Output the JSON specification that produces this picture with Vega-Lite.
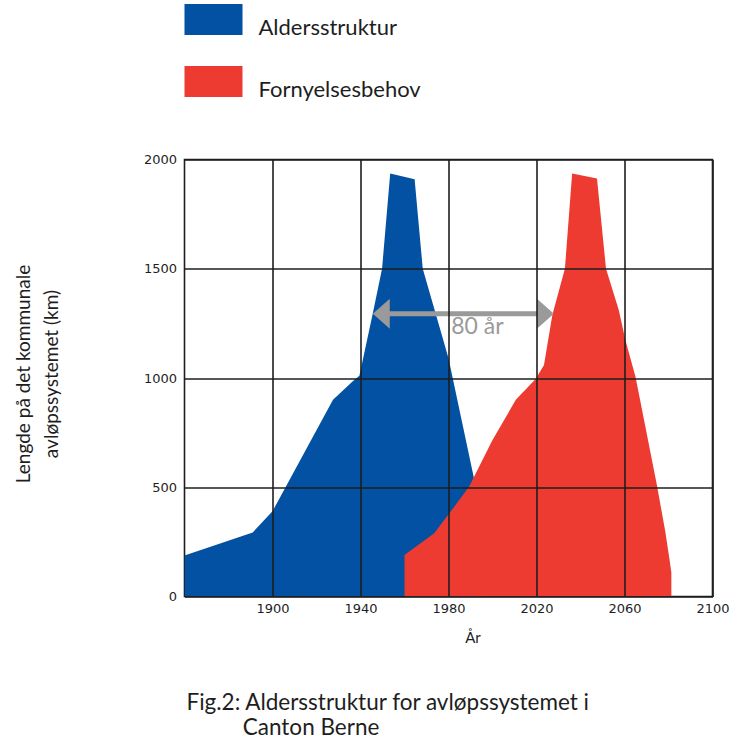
{
  "$schema": "https://vega.github.io/schema/vega-lite/v6.json",
  "autosize": "none",
  "width": 528,
  "height": 437,
  "padding": {"left": 184.5, "top": 159.5, "right": 35.5, "bottom": 146.5},
  "background": "white",
  "config": {
    "view": {"stroke": "#1e1e1e", "strokeWidth": 1.6},
    "font": "Lato"
  },
  "title": {
    "text": ["Fig.2: Aldersstruktur for avløpssystemet i", "\u200b\u2003\u2003\u2002\u2009\u2009\u2009\u2009Canton Berne"],
    "orient": "bottom",
    "anchor": "start",
    "frame": "group",
    "font": "Lato",
    "fontSize": 22.5,
    "fontWeight": "normal",
    "color": "#1e1e1e",
    "lineHeight": 25,
    "offset": 46,
    "dx": 2
  },
  "datasets": {
    "areas": [
      {"series": "Aldersstruktur", "year": 1860, "km": 188},
      {"series": "Aldersstruktur", "year": 1891, "km": 293},
      {"series": "Aldersstruktur", "year": 1900, "km": 390},
      {"series": "Aldersstruktur", "year": 1927.5, "km": 900},
      {"series": "Aldersstruktur", "year": 1936.5, "km": 985},
      {"series": "Aldersstruktur", "year": 1939.5, "km": 1010},
      {"series": "Aldersstruktur", "year": 1945.6, "km": 1296},
      {"series": "Aldersstruktur", "year": 1949.8, "km": 1500},
      {"series": "Aldersstruktur", "year": 1953.5, "km": 1936},
      {"series": "Aldersstruktur", "year": 1964.6, "km": 1910},
      {"series": "Aldersstruktur", "year": 1968.3, "km": 1500},
      {"series": "Aldersstruktur", "year": 1980, "km": 1090},
      {"series": "Aldersstruktur", "year": 1991.5, "km": 545},
      {"series": "Aldersstruktur", "year": 1994, "km": 300},
      {"series": "Aldersstruktur", "year": 1996, "km": 0},
      {"series": "Fornyelsesbehov", "year": 1960, "km": 190},
      {"series": "Fornyelsesbehov", "year": 1973.5, "km": 290},
      {"series": "Fornyelsesbehov", "year": 1980.4, "km": 381},
      {"series": "Fornyelsesbehov", "year": 1989.4, "km": 503},
      {"series": "Fornyelsesbehov", "year": 2000, "km": 716},
      {"series": "Fornyelsesbehov", "year": 2010.6, "km": 900},
      {"series": "Fornyelsesbehov", "year": 2019.6, "km": 995},
      {"series": "Fornyelsesbehov", "year": 2023.4, "km": 1060},
      {"series": "Fornyelsesbehov", "year": 2027.2, "km": 1288},
      {"series": "Fornyelsesbehov", "year": 2032.9, "km": 1500},
      {"series": "Fornyelsesbehov", "year": 2036.2, "km": 1936},
      {"series": "Fornyelsesbehov", "year": 2047.5, "km": 1913},
      {"series": "Fornyelsesbehov", "year": 2051.6, "km": 1500},
      {"series": "Fornyelsesbehov", "year": 2057.4, "km": 1311},
      {"series": "Fornyelsesbehov", "year": 2060.4, "km": 1174},
      {"series": "Fornyelsesbehov", "year": 2065, "km": 1006},
      {"series": "Fornyelsesbehov", "year": 2074.7, "km": 511},
      {"series": "Fornyelsesbehov", "year": 2078.5, "km": 300},
      {"series": "Fornyelsesbehov", "year": 2080.6, "km": 160},
      {"series": "Fornyelsesbehov", "year": 2081.3, "km": 110}
    ],
    "arrow": [
      {"from": 1950, "to": 2023, "km": 1294, "left": 1945.6, "right": 2027.9, "label": "80 år", "labelYear": 1981.2, "labelKm": 1232}
    ]
  },
  "layer": [
    {
      "data": {"name": "areas"},
      "transform": [{"filter": "datum.series === 'Aldersstruktur'"}],
      "mark": {"type": "area", "opacity": 1, "clip": true},
      "encoding": {
        "x": {
          "field": "year", "type": "quantitative",
          "scale": {"domain": [1860, 2100], "nice": false, "zero": false},
          "axis": {
            "values": [1900, 1940, 1980, 2020, 2060, 2100],
            "format": "d",
            "title": "År",
            "titleFont": "Lato", "titleFontSize": 15, "titleFontWeight": "normal", "titleColor": "#1e1e1e",
            "titleX": 288, "titleY": 46, "titleBaseline": "alphabetic",
            "labelFont": "DejaVu Sans", "labelFontSize": 13, "labelColor": "#1e1e1e", "labelPadding": 6,
            "ticks": false, "domain": false,
            "grid": true, "gridColor": "#1e1e1e", "gridWidth": 1.6, "gridOpacity": 1,
            "zindex": 1, "labelFlush": false
          }
        },
        "y": {
          "field": "km", "type": "quantitative", "stack": null,
          "scale": {"domain": [0, 2000], "nice": false},
          "axis": {
            "values": [0, 500, 1000, 1500, 2000],
            "format": "d",
            "title": ["Lengde på det kommunale", "avløpssystemet (km)"],
            "titleFont": "Lato", "titleFontSize": 19, "titleFontWeight": "normal", "titleColor": "#1e1e1e",
            "titleLineHeight": 28, "titleX": -155, "titleY": 214, "titleAlign": "center", "titleBaseline": "alphabetic", "titleAngle": 270,
            "labelFont": "DejaVu Sans", "labelFontSize": 13, "labelColor": "#1e1e1e", "labelPadding": 8,
            "ticks": false, "domain": false,
            "grid": true, "gridColor": "#1e1e1e", "gridWidth": 1.6, "gridOpacity": 1,
            "zindex": 1
          }
        },
        "color": {
          "field": "series", "type": "nominal",
          "scale": {"domain": ["Aldersstruktur", "Fornyelsesbehov"], "range": ["#0351A2", "#EE3B32"]},
          "legend": {
            "orient": "none", "legendX": 0, "legendY": -161,
            "title": null, "padding": 0,
            "symbolType": "M-1,-0.81H1V0.258H-1Z", "symbolSize": 3364,
            "symbolStrokeWidth": 0, "symbolOpacity": 1,
            "labelFont": "Lato", "labelFontSize": 22, "labelColor": "#1e1e1e", "labelLimit": 0,
            "labelOffset": 16, "labelBaseline": "middle", "rowPadding": 22
          }
        }
      }
    },
    {
      "data": {"name": "areas"},
      "transform": [{"filter": "datum.series === 'Fornyelsesbehov'"}],
      "mark": {"type": "area", "opacity": 1, "clip": true},
      "encoding": {
        "x": {"field": "year", "type": "quantitative"},
        "y": {"field": "km", "type": "quantitative", "stack": null},
        "color": {"field": "series", "type": "nominal"}
      }
    },
    {
      "data": {"name": "arrow"},
      "mark": {"type": "rule", "color": "#9a9a9a", "strokeWidth": 5},
      "encoding": {
        "x": {"field": "from", "type": "quantitative"},
        "x2": {"field": "to"},
        "y": {"field": "km", "type": "quantitative"}
      }
    },
    {
      "data": {"name": "arrow"},
      "mark": {"type": "point", "filled": true, "color": "#9a9a9a", "opacity": 1, "size": 900, "shape": "M0,0L1.13,-1L1.13,1Z"},
      "encoding": {
        "x": {"field": "left", "type": "quantitative"},
        "y": {"field": "km", "type": "quantitative"}
      }
    },
    {
      "data": {"name": "arrow"},
      "mark": {"type": "point", "filled": true, "color": "#9a9a9a", "opacity": 1, "size": 900, "shape": "M0,0L-1.13,-1L-1.13,1Z"},
      "encoding": {
        "x": {"field": "right", "type": "quantitative"},
        "y": {"field": "km", "type": "quantitative"}
      }
    },
    {
      "data": {"name": "arrow"},
      "mark": {"type": "text", "font": "Lato", "fontSize": 23, "color": "#9a9a9a", "align": "left", "baseline": "middle"},
      "encoding": {
        "x": {"field": "labelYear", "type": "quantitative"},
        "y": {"field": "labelKm", "type": "quantitative"},
        "text": {"field": "label"}
      }
    }
  ]
}
